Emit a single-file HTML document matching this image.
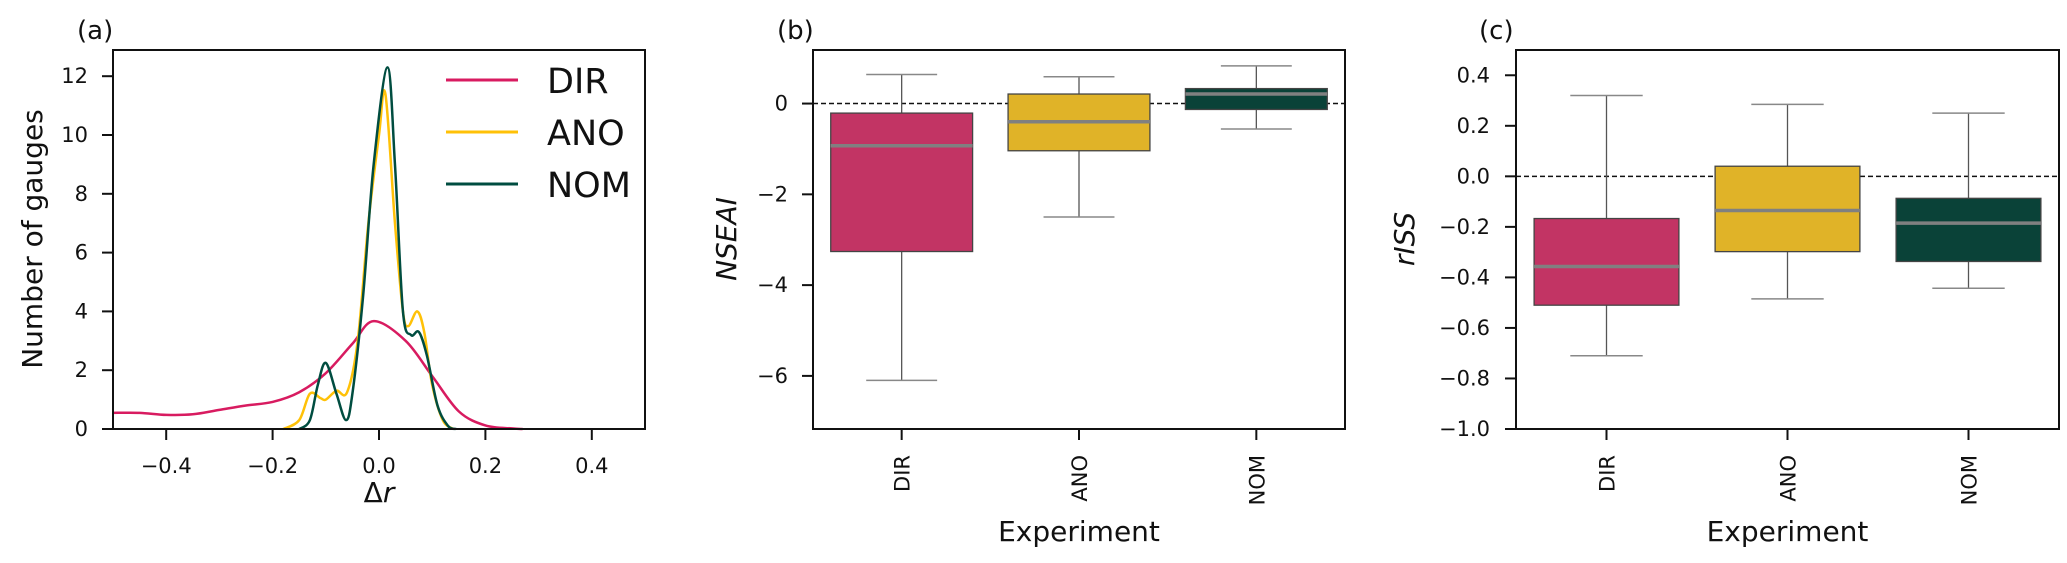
<!DOCTYPE html>
<html><head><meta charset="utf-8"><style>
body{margin:0;background:#fff}
svg{display:block;font-family:"DejaVu Sans","Liberation Sans",sans-serif}
</style></head><body>
<svg id="fig" width="2067" height="563" viewBox="0 0 2067 563" xmlns="http://www.w3.org/2000/svg"></svg>
<script>
// ---- Panel (a) KDE data ----
const dirX=[-0.5,-0.45,-0.4,-0.35,-0.3,-0.25,-0.2,-0.15,-0.1,-0.05,-0.01,0.05,0.1,0.15,0.2,0.25,0.27];
const dirY=[0.55,0.55,0.48,0.5,0.65,0.8,0.92,1.25,1.9,2.9,3.67,3.0,1.8,0.6,0.12,0.02,0];
const anoX=[-0.18,-0.15,-0.13,-0.11,-0.1,-0.08,-0.06,-0.04,-0.02,0.0,0.012,0.03,0.045,0.055,0.072,0.085,0.1,0.12,0.14];
const anoY=[0,0.3,1.2,1.05,1.0,1.3,1.25,3,7,10,11.4,7,4,3.5,4.0,3.3,1.5,0.3,0];
const nomX=[-0.15,-0.13,-0.115,-0.1,-0.08,-0.062,-0.05,-0.03,-0.01,0.016,0.03,0.045,0.06,0.075,0.09,0.11,0.13,0.145];
const nomY=[0,0.3,1.5,2.25,1.2,0.3,1.2,4.5,9,12.3,9,4,3.2,3.3,2.5,0.8,0.1,0];
const aXTicks=[-0.4,-0.2,0.0,0.2,0.4];
const aXTickLabels=["\u22120.4","\u22120.2","0.0","0.2","0.4"];
const aYTicks=[0,2,4,6,8,10,12];
// ---- Panel (b)/(c) box data ----
const categories=["DIR","ANO","NOM"];
const nseLow=[-6.1,-2.5,-0.56];
const nseQ1=[-3.26,-1.04,-0.13];
const nseMed=[-0.93,-0.40,0.21];
const nseQ3=[-0.21,0.21,0.33];
const nseHigh=[0.64,0.59,0.83];
const nseTicks=[-6,-4,-2,0];
const rissLow=[-0.71,-0.485,-0.443];
const rissQ1=[-0.51,-0.298,-0.337];
const rissMed=[-0.357,-0.135,-0.185];
const rissQ3=[-0.167,0.04,-0.087];
const rissHigh=[0.32,0.285,0.25];
const rissTicks=[-1.0,-0.8,-0.6,-0.4,-0.2,0.0,0.2,0.4];

const NS="http://www.w3.org/2000/svg";
const svg=document.getElementById('fig');
function mk(tag,attrs,parent){const e=document.createElementNS(NS,tag);for(const k in attrs)e.setAttribute(k,attrs[k]);(parent||svg).appendChild(e);return e;}
function txt(s,attrs,parent){const e=mk('text',attrs,parent);e.textContent=s;return e;}
const minus=v=>String(v).replace('-','\u2212');

const lineCols=['#d81b60','#ffc107','#004d40'];
const boxCols=['#c23464','#e0b328','#0a4238'];
const B=429,TOP=50;
const TF=21;

// ===== Panel A =====
(function(){
 const L=113,R=645;
 const sx=v=>L+(v+0.5)/1.0*(R-L);
 const sy=v=>B-v*29.4;
 const g=mk('g',{});
 
 
 function smooth(xs,ys){
   const p=xs.map((x,i)=>[sx(x),sy(ys[i])]);
   let d='M'+p[0][0]+','+p[0][1];
   for(let i=0;i<p.length-1;i++){
     const p0=p[i-1]||p[i],p1=p[i],p2=p[i+1],p3=p[i+2]||p2;
     const c1=[p1[0]+(p2[0]-p0[0])/6,p1[1]+(p2[1]-p0[1])/6];
     const c2=[p2[0]-(p3[0]-p1[0])/6,p2[1]-(p3[1]-p1[1])/6];
     d+=`C${c1[0]},${c1[1]} ${c2[0]},${c2[1]} ${p2[0]},${p2[1]}`;
   }
   return d;
 }
 const series=[[dirX,dirY,'dir'],[anoX,anoY,'ano'],[nomX,nomY,'nom']];
 series.forEach((s,i)=>{
   const p=mk('path',{d:smooth(s[0],s[1]),fill:'none',stroke:lineCols[i],'stroke-width':2.5},g);
   
   
 });
 mk('rect',{x:L,y:TOP,width:R-L,height:B-TOP,fill:'none',stroke:'#111','stroke-width':2},g);
 aXTicks.forEach((t,i)=>{
   mk('line',{x1:sx(t),x2:sx(t),y1:B,y2:B+11,stroke:'#111','stroke-width':2},g);
   const e=txt(aXTickLabels[i],{x:sx(t),y:473,'font-size':TF,'text-anchor':'middle',fill:'#111'},g);
   
   
 });
 aYTicks.forEach(t=>{
   mk('line',{x1:L-11,x2:L,y1:sy(t),y2:sy(t),stroke:'#111','stroke-width':2},g);
   const e=txt(String(t),{x:88,y:sy(t)+7,'font-size':TF,'text-anchor':'end',fill:'#111'},g);
   
   
 });
 let e=txt('Number of gauges',{x:0,y:0,'font-size':28,'text-anchor':'middle',transform:'translate(42,239) rotate(-90)',fill:'#111'},g);
 
 e=mk('text',{x:379,y:502,'font-size':28,'text-anchor':'middle',fill:'#111'},g);
 e.innerHTML='Δ<tspan font-style="italic">r</tspan>';
 
 e=txt('(a)',{x:77,y:39,'font-size':26,fill:'#111'},g);
 
 const names=['DIR','ANO','NOM'],ly=[80,132,184];
 names.forEach((n,i)=>{
   const lg=mk('g',{},g);
   
   
   mk('line',{x1:446,x2:518,y1:ly[i],y2:ly[i],stroke:lineCols[i],'stroke-width':3},lg);
   txt(n,{x:547,y:ly[i]+13,'font-size':35,fill:'#111'},lg);
 });
})();

// ===== Box panels =====
function boxPanel(opts){
 const {L,R,vmin,vmax,low,q1,med,q3,high,ticks,fmt,label,tag,tagX,ylabX,tickX}=opts;
 const g=mk('g',{});
 
 
 const sy=v=>B-(v-vmin)/(vmax-vmin)*(B-TOP);
 const bw=(R-L)/categories.length;
 const cx=i=>L+bw*(i+0.5);
 mk('line',{x1:L,x2:R,y1:sy(0),y2:sy(0),stroke:'#111','stroke-width':1.5,'stroke-dasharray':'5,3'},g);
 categories.forEach((c,i)=>{
   const bg=mk('g',{},g);
   
   
   const x=cx(i),hw=bw*0.4,cw=bw*0.2;
   mk('line',{x1:x,x2:x,y1:sy(high[i]),y2:sy(q3[i]),stroke:'#555','stroke-width':1.3},bg);
   mk('line',{x1:x,x2:x,y1:sy(q1[i]),y2:sy(low[i]),stroke:'#555','stroke-width':1.3},bg);
   mk('line',{x1:x-cw,x2:x+cw,y1:sy(high[i]),y2:sy(high[i]),stroke:'#888','stroke-width':1.5},bg);
   mk('line',{x1:x-cw,x2:x+cw,y1:sy(low[i]),y2:sy(low[i]),stroke:'#888','stroke-width':1.5},bg);
   mk('rect',{x:x-hw,y:sy(q3[i]),width:2*hw,height:sy(q1[i])-sy(q3[i]),fill:boxCols[i],stroke:'#444','stroke-width':1.3},bg);
   mk('line',{x1:x-hw,x2:x+hw,y1:sy(med[i]),y2:sy(med[i]),stroke:'#808080','stroke-width':3.5},bg);
   mk('line',{x1:x,x2:x,y1:B,y2:B+11,stroke:'#111','stroke-width':2},g);
   const t=txt(c,{x:0,y:0,'font-size':21,'text-anchor':'end',fill:'#111',transform:`translate(${x+8},${455}) rotate(-90)`},g);
   
   
 });
 mk('rect',{x:L,y:TOP,width:R-L,height:B-TOP,fill:'none',stroke:'#111','stroke-width':2},g);
 ticks.forEach(t=>{
   mk('line',{x1:L-11,x2:L,y1:sy(t),y2:sy(t),stroke:'#111','stroke-width':2},g);
   const e=txt(minus(fmt(t)),{x:tickX,y:sy(t)+7,'font-size':TF,'text-anchor':'end',fill:'#111'},g);
   
   
 });
 let e=txt(label,{x:0,y:0,'font-size':28,'font-style':'italic','text-anchor':'middle',transform:`translate(${ylabX},239) rotate(-90)`,fill:'#111'},g);
 
 e=txt('Experiment',{x:(L+R)/2,y:541,'font-size':28,'text-anchor':'middle',fill:'#111'},g);
 
 e=txt(tag,{x:tagX,y:39,'font-size':26,fill:'#111'},g);
 
}
boxPanel({name:'panel-b-nseai',L:813,R:1345,vmin:-7.17,vmax:1.18,low:nseLow,q1:nseQ1,med:nseMed,q3:nseQ3,high:nseHigh,
 ticks:nseTicks,fmt:t=>String(t),label:'NSEAI',tag:'(b)',tagX:777,ylabX:736,tickX:788});
boxPanel({name:'panel-c-riss',L:1516,R:2059,vmin:-1.0,vmax:0.5,low:rissLow,q1:rissQ1,med:rissMed,q3:rissQ3,high:rissHigh,
 ticks:rissTicks,fmt:t=>t.toFixed(1),label:'rISS',tag:'(c)',tagX:1479,ylabX:1414,tickX:1490});
</script>
</body></html>
